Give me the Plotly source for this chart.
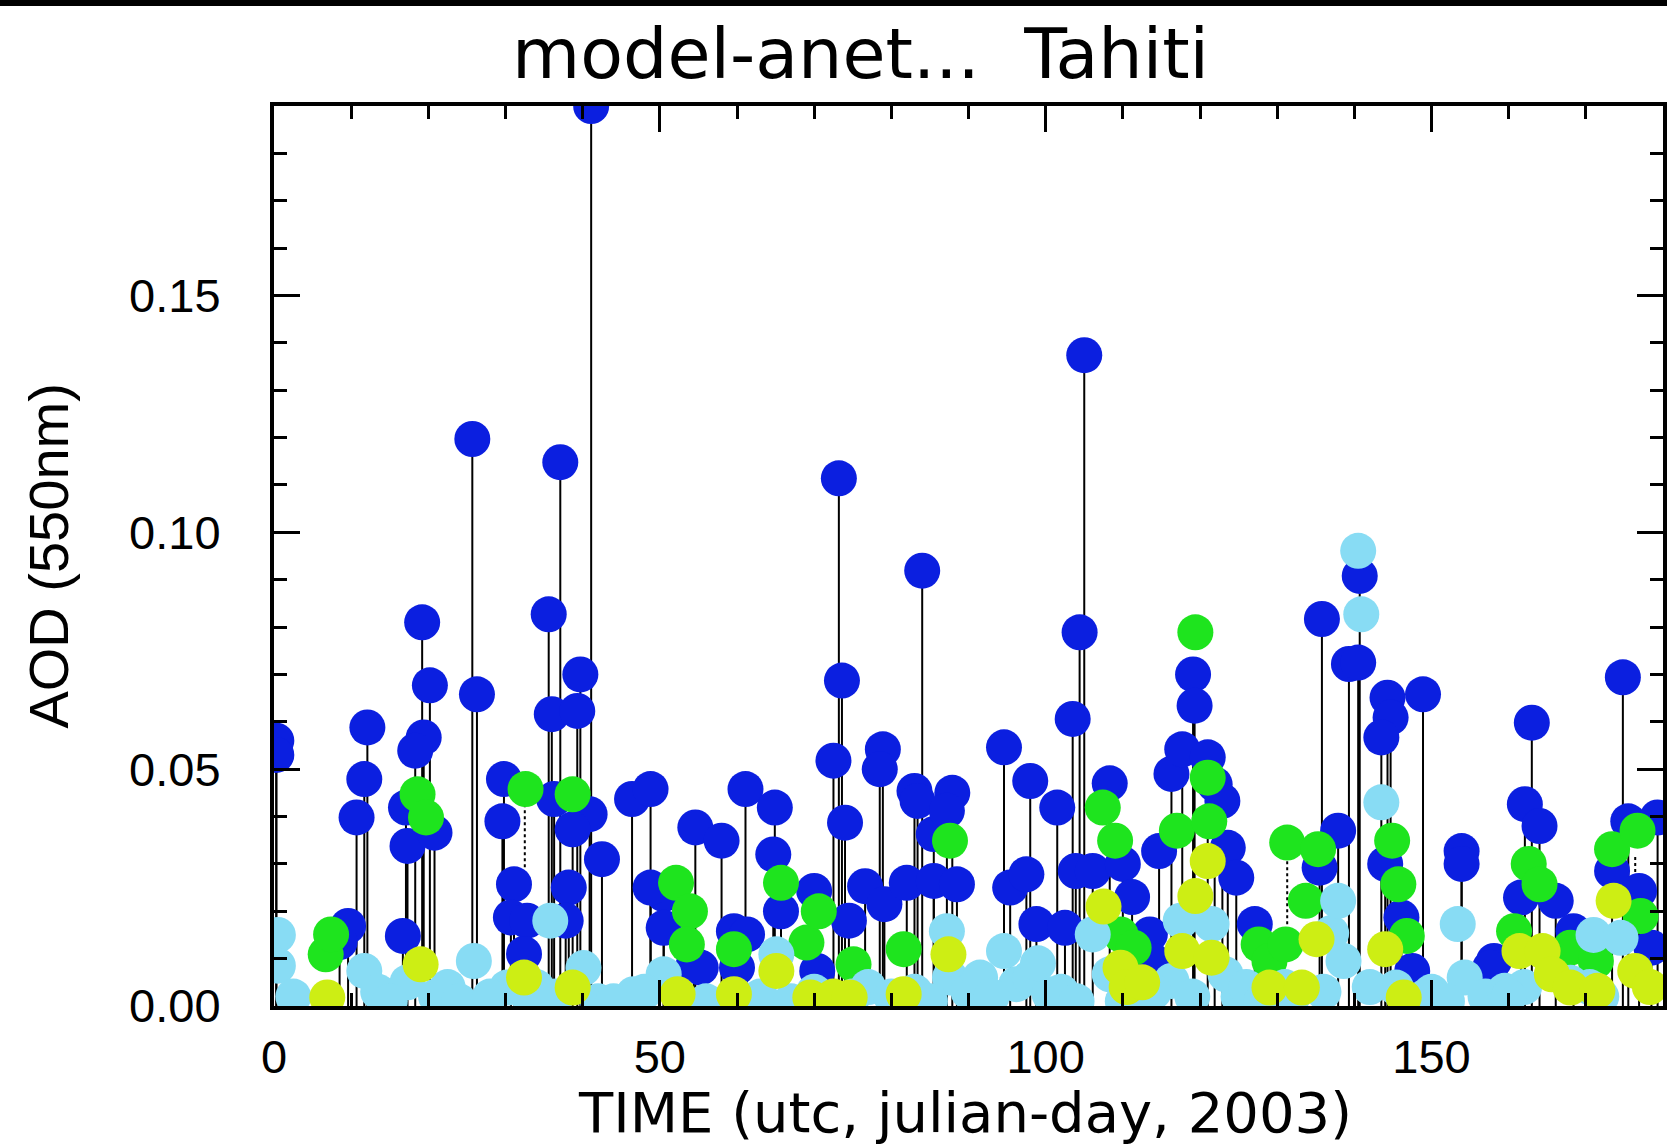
import plotly.graph_objects as go

# ---------------- data ----------------
blue_x = [0.3, 0.3, 12.1, 11.7, 10.7, 9.6, 8.5, 16.7, 19.2, 20.2, 19.4, 18.3, 17.1, 17.3, 20.8,
          25.7, 26.3, 35.6, 37.1, 39.7, 36.0, 39.3, 29.8, 36.3, 40.9, 38.7, 29.6, 42.5, 31.1,
          38.2, 30.7, 32.8, 37.8, 32.4, 46.4, 48.8, 54.6, 50.5, 50.5, 54.4, 41.1,
          73.2, 73.6, 72.5, 74.0, 84.0, 104.4, 105.0, 103.5, 94.6, 78.9, 78.5, 83.0, 83.4, 87.9,
          98.0, 101.5, 61.1, 64.9, 58.0, 64.7, 48.8, 59.6, 61.3, 65.7, 70.0, 76.6, 79.1, 74.5,
          70.4, 55.3, 60.0, 82.0, 85.5, 88.5, 85.5, 87.2, 95.4, 97.5, 98.8, 102.5, 103.9, 106.1,
          108.3, 110.0, 111.2, 114.7, 113.5, 113.9, 116.3, 117.7, 119.1, 119.3, 121.0, 121.9,
          122.9, 123.6, 124.7, 127.1, 135.8, 139.3, 140.5, 140.7, 137.9, 135.5, 144.3, 144.7,
          143.5, 148.9, 144.0, 146.1, 147.5, 153.9, 153.9, 163.0, 162.1, 164.0, 161.6, 166.1,
          168.4, 158.1, 157.6, 174.8, 175.5, 173.4, 179.3, 176.9, 178.5]
blue_y = [0.056, 0.053, 0.0588, 0.0479, 0.0398, 0.0169, 0.0135, 0.0148, 0.081, 0.0677, 0.0567,
          0.0539, 0.0419, 0.0338, 0.0366,
          0.1197, 0.0658, 0.0827, 0.1148, 0.070, 0.0616, 0.0623, 0.0479, 0.0437, 0.0405, 0.0373,
          0.039, 0.031, 0.0257,
          0.025, 0.0187, 0.018, 0.018, 0.011, 0.0437, 0.0458, 0.0377, 0.0236, 0.0165, 0.0088, 0.19,
          0.1114, 0.0687, 0.0518, 0.0387, 0.0919, 0.0789, 0.1374, 0.0606, 0.0546, 0.0542, 0.050,
          0.0454, 0.0433, 0.045,
          0.0475, 0.0419, 0.0458, 0.0419, 0.0349, 0.032, 0.025, 0.0158, 0.0151, 0.020, 0.0243,
          0.0253, 0.0215, 0.018,
          0.0074, 0.0081, 0.0081, 0.026, 0.0264, 0.0257, 0.0363, 0.0412, 0.025, 0.0278, 0.0173,
          0.0165, 0.0285, 0.0285,
          0.047, 0.030, 0.023, 0.0327, 0.0151, 0.0095, 0.049, 0.0542, 0.070, 0.0634, 0.0525, 0.0468,
          0.0433, 0.0334, 0.0271, 0.0173, 0.0817, 0.0722, 0.0725, 0.0908, 0.037, 0.0292, 0.0651,
          0.0609,
          0.0567, 0.0658, 0.030, 0.0187, 0.0074, 0.0327, 0.030, 0.0598, 0.0426, 0.038, 0.0229,
          0.0222,
          0.0158, 0.0095, 0.0081, 0.0694, 0.039, 0.0285, 0.0398, 0.0243, 0.0123]

green_x = [6.7, 7.4, 18.6, 19.7, 32.6, 38.7, 52.1, 53.9, 53.5, 59.6, 65.7, 69.0, 70.6, 75.1, 81.6,
           87.6, 107.4, 109.0, 109.7, 111.4, 117.0, 119.4, 121.0, 121.2, 127.6, 129.0, 131.1,
           131.3, 133.7, 135.3, 144.9, 145.7, 146.8, 160.7, 162.6, 164.0, 168.0, 171.3, 173.4,
           176.7, 177.1]
green_y = [0.0109, 0.0151, 0.0447, 0.0398, 0.0458, 0.0447, 0.026, 0.020, 0.013, 0.012, 0.026,
           0.0134, 0.020, 0.0088, 0.012,
           0.0349, 0.0419, 0.0349, 0.0151, 0.0123, 0.037, 0.0789, 0.0482, 0.039, 0.013, 0.0095,
           0.013,
           0.0345, 0.0222, 0.0331, 0.0349, 0.0257, 0.0148, 0.0158, 0.030, 0.0257, 0.0123, 0.0095,
           0.0331,
           0.037, 0.019]

lblue_x = [0.5, 0.5, 11.7, 13.5, 17.3, 21.0, 25.9, 30.2, 33.0, 35.8, 40.1, 42.0, 46.6, 50.5,
           60.0, 65.1, 70.0, 77.0, 80.0, 87.2, 87.6, 90.0, 94.6, 96.2, 98.0, 100.5, 106.1,
           108.3, 112.0, 116.3, 117.5, 121.5, 123.3, 125.0, 131.0, 137.0, 137.9, 138.6, 140.5,
           140.9, 143.5, 145.4, 149.2, 153.4, 154.3, 157.0, 159.5, 162.0, 168.0, 171.0, 174.5,
           2.5, 15.0, 22.5, 24.0, 28.0, 34.0, 36.5, 44.0, 48.0, 56.0, 63.0, 67.0, 75.0, 83.0,
           85.0, 91.5, 93.0, 99.0, 102.0, 104.0, 110.0, 114.0, 119.0, 126.0, 128.0, 132.0,
           136.0, 142.0, 150.0, 152.0, 160.0, 170.5, 172.0]
lblue_y = [0.015, 0.0085, 0.0074, 0.003, 0.005, 0.002, 0.0095, 0.0039, 0.002, 0.018, 0.008,
           0.001, 0.0025, 0.0067,
           0.002, 0.0109, 0.003, 0.004, 0.002, 0.0158, 0.006, 0.003, 0.0116, 0.0046, 0.006,
           0.0025, 0.0151,
           0.0067, 0.002, 0.0053, 0.018, 0.0173, 0.0067, 0.002, 0.004, 0.0154, 0.0222, 0.0095,
           0.0961,
           0.0827, 0.043, 0.0039, 0.002, 0.0173, 0.006, 0.002, 0.0032, 0.004, 0.0049, 0.015,
           0.0144,
           0.002, 0.001, 0.004, 0.001, 0.002, 0.004, 0.002, 0.001, 0.003, 0.001, 0.002, 0.001,
           0.002, 0.003,
           0.001, 0.006, 0.002, 0.009, 0.003, 0.001, 0.001, 0.003, 0.002, 0.004, 0.001, 0.002,
           0.003, 0.004, 0.003, 0.001, 0.002, 0.004, 0.002]

yellow_x = [6.9, 19.0, 32.4, 38.7, 52.3, 59.6, 65.1, 69.5, 72.5, 74.6, 81.6, 87.4, 107.5,
            109.7, 110.5, 112.5, 117.7, 119.4, 121.0, 121.5, 129.0, 133.2, 135.1, 144.0, 146.4,
            161.4, 164.4, 165.6, 168.0, 171.5, 173.6, 176.4, 178.3]
yellow_y = [0.0018, 0.0088, 0.006, 0.0039, 0.0025, 0.0025, 0.0074, 0.0018, 0.002, 0.0018,
            0.0025, 0.0109, 0.021,
            0.0081, 0.004, 0.005, 0.0116, 0.0232, 0.0306, 0.0102, 0.0039, 0.0039, 0.0141, 0.012,
            0.0018,
            0.0116, 0.0116, 0.0067, 0.0039, 0.0032, 0.0222, 0.0074, 0.004]

# dotted connectors (x, upper value, lower value)
dot_x = [32.5, 131.3, 176.4]
dot_top = [0.0435, 0.0323, 0.032]
dot_bottom = [0.0293, 0.016, 0.027]

x_ticks = [0, 50, 100, 150]
y_ticks = [0.0, 0.05, 0.10, 0.15]
y_ticktext = ["0.00", "0.05", "0.10", "0.15"]

title_text = "model-anet...\u00a0\u00a0Tahiti"
x_title = "TIME (utc, julian-day, 2003)"
y_title = "AOD (550nm)"

# ---------------- figure ----------------
FONT = "Liberation Sans, Arial, sans-serif"
WIDE = "DejaVu Sans, Liberation Sans, sans-serif"
fig = go.Figure()

stem_x, stem_y = [], []
for xv, yv in zip(blue_x, blue_y):
    stem_x += [xv, xv, None]
    stem_y += [0, yv, None]
fig.add_trace(go.Scatter(x=stem_x, y=stem_y, mode="lines",
                         line=dict(color="black", width=2),
                         hoverinfo="skip", showlegend=False))

dx, dy = [], []
for xv, t, b in zip(dot_x, dot_top, dot_bottom):
    dx += [xv, xv, None]
    dy += [b, t, None]
fig.add_trace(go.Scatter(x=dx, y=dy, mode="lines",
                         line=dict(color="black", width=2, dash="dot"),
                         hoverinfo="skip", showlegend=False))

for xs, ys, col in [(blue_x, blue_y, "#0B1FE0"),
                    (green_x, green_y, "#1EE41E"),
                    (lblue_x, lblue_y, "#88DCF4"),
                    (yellow_x, yellow_y, "#CDEE14")]:
    fig.add_trace(go.Scatter(x=xs, y=ys, mode="markers",
                             marker=dict(size=36, color=col, line=dict(width=0)),
                             showlegend=False))

axis_common = dict(
    showgrid=False, zeroline=False, automargin=False,
    showline=True, linewidth=4, linecolor="black", mirror="ticks",
    ticks="inside", ticklen=26, tickwidth=3, tickcolor="black",
    tickfont=dict(family=FONT, size=47, color="black"),
)

fig.update_xaxes(range=[0, 180], tickvals=x_ticks, ticklabelstandoff=7,
                 minor=dict(dtick=10, ticks="inside", ticklen=13, tickwidth=3,
                            tickcolor="black", showgrid=False),
                 **axis_common)
fig.update_yaxes(range=[0, 0.19], tickvals=y_ticks, ticktext=y_ticktext,
                 ticklabelstandoff=40,
                 minor=dict(dtick=0.01, ticks="inside", ticklen=13, tickwidth=3,
                            tickcolor="black", showgrid=False),
                 **axis_common)

fig.update_layout(
    width=1667, height=1144,
    margin=dict(l=274, r=4, t=106, b=138, pad=0),
    paper_bgcolor="white", plot_bgcolor="white",
    showlegend=False,
    annotations=[
        dict(text=title_text, xref="paper", yref="paper", x=0.4226, y=1.058,
             xanchor="center", yanchor="middle", showarrow=False,
             font=dict(family=WIDE, size=70, color="black")),
        dict(text=x_title, xref="paper", yref="paper", x=0.4975, y=-0.118,
             xanchor="center", yanchor="middle", showarrow=False,
             font=dict(family=WIDE, size=56, color="black")),
        dict(text=y_title, xref="paper", yref="paper", x=-0.163, y=0.5,
             xanchor="center", yanchor="middle", showarrow=False, textangle=-90,
             font=dict(family=FONT, size=56, color="black")),
    ],
    shapes=[
        dict(type="rect", xref="paper", yref="paper",
             x0=-0.25, x1=1.05, y0=(1006 - 6) / 900, y1=(1006 + 20) / 900,
             fillcolor="black", line=dict(width=0), layer="above"),
    ],
)

fig.write_html("out.html",
               config={"displayModeBar": False},
               post_script="document.body.style.margin='0';"
                           "document.body.style.overflow='hidden';")
